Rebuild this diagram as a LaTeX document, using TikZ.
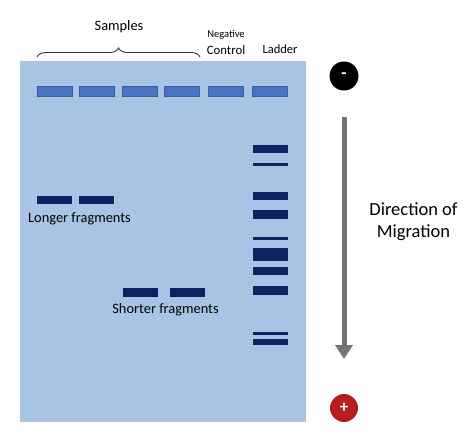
\documentclass[tikz,border=0pt]{standalone}
\usepackage{fontspec}
\setmainfont{Carlito}
\usetikzlibrary{positioning}
\usetikzlibrary{arrows.meta}
\usetikzlibrary{decorations.pathreplacing}
\definecolor{gelblue}{HTML}{A8C4E4}
\definecolor{wellblue}{HTML}{4A74C6}
\definecolor{wellline}{HTML}{3A5C9E}
\definecolor{dnablue}{HTML}{0B2461}
\definecolor{arrowgray}{HTML}{767171}
\definecolor{plusred}{HTML}{B5201C}
\tikzset{x=1pt, y=-1pt, inner sep=0pt, outer sep=0pt, font=\fontsize{14.4}{16}\selectfont}
\tikzstyle{gel} = [fill=gelblue, draw=none, rectangle, minimum width=286pt, minimum height=361pt]
\tikzstyle{well} = [fill=wellblue, draw=wellline, line width=0.5pt, rectangle, minimum width=35pt, minimum height=10pt]
\tikzstyle{band} = [fill=dnablue, draw=none, rectangle, minimum width=35pt]
\tikzstyle{pole} = [circle, minimum size=29pt, text=white, font=\fontsize{17}{17}\selectfont\bfseries]
\tikzstyle{label} = [align=center, text=black]

\begin{document}
\begin{tikzpicture}
		\useasboundingbox (0,0) rectangle (474,437);
		\node [gel] (gel) at (163,241.5) {};

		% wells
		\foreach \i/\x in {1/54.5, 2/96.5, 3/139.5, 4/182, 5/225.5, 6/269.5}
			\node [well] (well\i) at (\x,91) {};

		% sample bands
		\node [band, minimum height=8.6pt] (long1) at (54.5,200) {};
		\node [band, minimum height=8.6pt] (long2) at (96.5,200) {};
		\node [band, minimum height=9pt] (short1) at (140,292.2) {};
		\node [band, minimum height=9pt] (short2) at (187.5,292.2) {};

		% ladder
		\foreach \i/\y/\h in {1/149.2/8.3, 2/164.8/3, 3/196/8.6, 4/214.3/8.7, 5/238.3/3.3,
			6/254.8/13, 7/271/8.6, 8/290.7/8.7, 9/333.7/3.3, 10/341.8/5.7}
			\node [band, minimum height=\h pt] (lad\i) at (270,\y) {};

		\node [label] (longer) at (79.5,219) {Longer fragments};
		\node [label] (shorter) at (165.5,310) {Shorter fragments};

		% lane labels
		\coordinate (bl) at (37,57);
		\coordinate (br) at (200,57);
		\draw [decorate, decoration={brace, amplitude=9pt}, line width=0.9pt, draw=black!80] (bl) -- (br);
		\node [label] (samples) at (119,27) {Samples};
		\node [label, font=\fontsize{10.5}{10.5}\selectfont] (neg) at (226,35) {Negative};
		\node [label, font=\fontsize{12.8}{13}\selectfont] (control) at (226,50) {Control};
		\node [label, font=\fontsize{12.5}{13}\selectfont] (ladder) at (280,49) {Ladder};

		% poles and direction
		\node [pole, fill=black] (minus) at (344,76) {-};
		\node [pole, fill=plusred, minimum size=28pt] (plus) at (344,408) {+};
		\coordinate (arrtop) at (344,117);
		\coordinate (arrtip) at (344,359);
		\draw [-{Triangle[width=17pt, length=14pt]}, line width=5pt, draw=arrowgray] (arrtop) -- (arrtip);
		\node [label, font=\fontsize{18.5}{22}\selectfont] (direction) at (413.5,222) {Direction of\\Migration};
	\end{tikzpicture}
\end{document}
